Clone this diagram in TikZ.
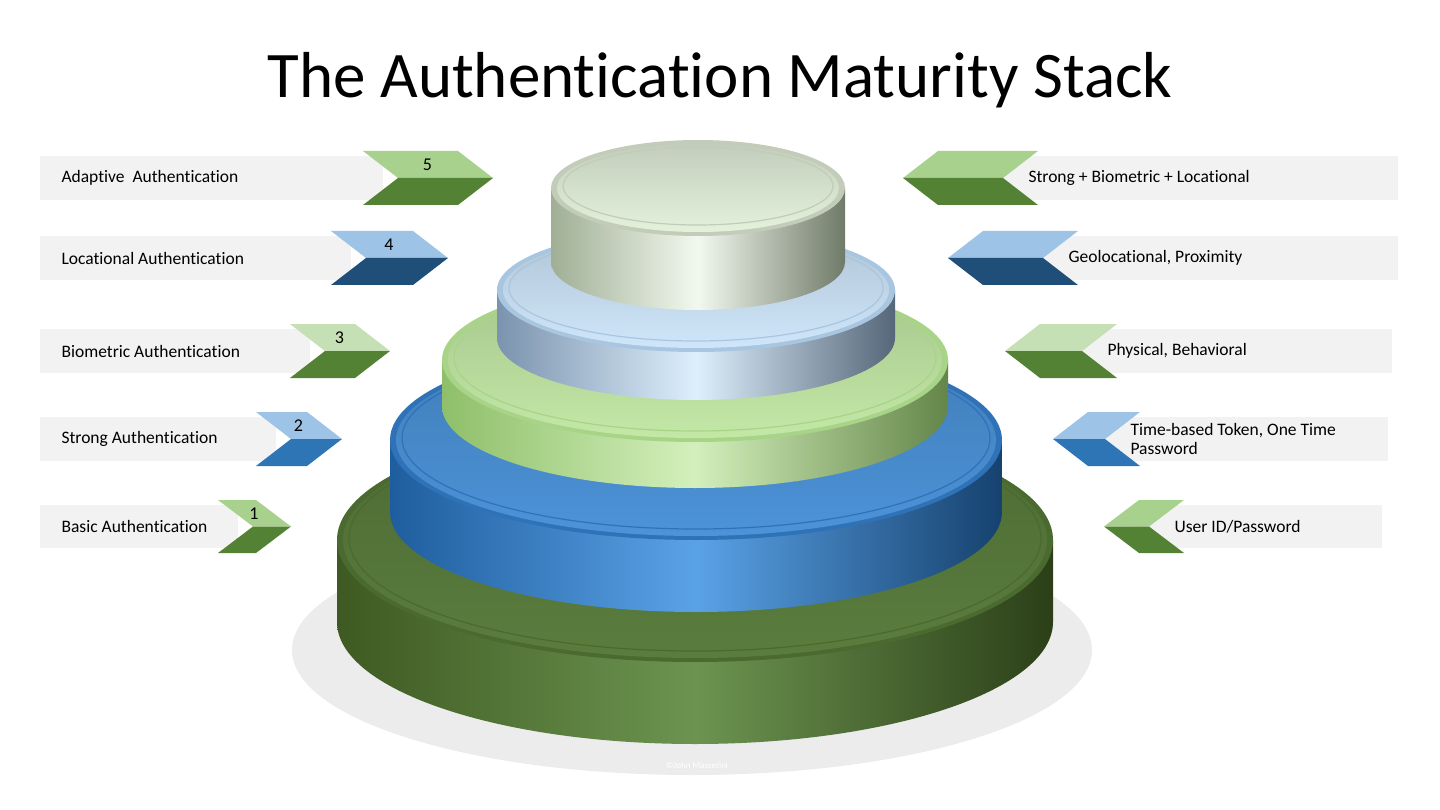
\documentclass[tikz,border=0pt]{standalone}
\usepackage{fontspec}
\setmainfont{Carlito}[Ligatures={NoCommon}]
\definecolor{glight}{HTML}{A9D18E}
\definecolor{gdark}{HTML}{548235}
\definecolor{g3light}{HTML}{C5E0B4}
\definecolor{blight}{HTML}{9DC3E6}
\definecolor{bdark}{HTML}{2E75B6}
\definecolor{b4dark}{HTML}{1F4E79}
\definecolor{barg}{HTML}{F2F2F2}
\begin{document}
\begin{tikzpicture}[x=1pt,y=-1pt,
  lbl/.style={font=\fontsize{17.5}{19}\selectfont,anchor=west,align=left,text=black},
  num/.style={font=\fontsize{18}{20}\selectfont,text=black}]
\useasboundingbox (0,0) rectangle (1440,810);
\fill[white] (0,0) rectangle (1440,810);
\node[font=\fontsize{65}{70}\selectfont] (title) at (720,80) {The Authentication Maturity Stack};
\fill[gray!15] (692,650) ellipse[x radius=400,y radius=125];
\newcommand\mylayer[9]{% cx cy rx ry h side-edge side-mid top rim-edge
  \definecolor{sedge}{HTML}{#6}\definecolor{smid}{HTML}{#7}
  \definecolor{stop}{HTML}{#8}\definecolor{srim}{HTML}{#9}
  \shade[left color=sedge,right color=sedge!70!black,middle color=smid]
   (#1-#3,#2) -- (#1-#3,#2+#5) arc[start angle=180,end angle=0,x radius=#3,y radius=#4] -- (#1+#3,#2) -- cycle;
  \fill[srim] (#1,#2) ellipse[x radius=#3,y radius=#4];
  \shade[top color=stop!85!black,bottom color=stop] (#1,#2) ellipse[x radius=#3-6,y radius=#4-4];
  \draw[srim,line width=1.2] (#1,#2-2) ellipse[x radius=#3-12,y radius=#4-9];
}
\mylayer{695}{540}{358}{122}{82}{3E5A22}{6C9450}{5A7D3E}{4A6A30}
\mylayer{696}{440}{306}{100}{72}{1F5E9E}{5AA2E6}{4C93D8}{2F72B8}
\mylayer{695}{360}{253}{82}{46}{8FBF6A}{D3F0BC}{C3E8A6}{A8D488}
\mylayer{696}{290}{199}{62}{48}{7B93AE}{DDEFFC}{CFE6FA}{A9C6E0}
\mylayer{698}{188}{147}{48}{74}{9FAF95}{F2F8EE}{E4F2DC}{C2CCB8}
\node[font=\fontsize{9}{10}\selectfont,text=white] (copy) at (697,765) {\textcopyright John Masserini};
\newcommand\lchev[8]{% x0 x1 y0 y1 light dark num label
  \fill[barg] (40,#3+5) rectangle (#1+20,#4-5);
  \fill[#5] (#1,#3) -- (#2,#3) -- (#2+35,{(#3+#4)/2}) -- (#1+35,{(#3+#4)/2}) -- cycle;
  \fill[#6] (#1+35,{(#3+#4)/2}) -- (#2+35,{(#3+#4)/2}) -- (#2,#4) -- (#1,#4) -- cycle;
  \node[num] at ({(#1+#2)/2+17},#3+14) {#7};
  \node[lbl] at (58,{(#3+#4)/2}) {#8};
}
\lchev{363}{458}{151}{205}{glight}{gdark}{5}{Adaptive\ \ Authentication}
\lchev{331}{413}{231}{285}{blight}{b4dark}{4}{Locational Authentication}
\lchev{290}{355}{324}{378}{g3light}{gdark}{3}{Biometric Authentication}
\lchev{256}{307}{412}{466}{blight}{bdark}{2}{Strong Authentication}
\lchev{218}{256}{500}{553}{glight}{gdark}{1}{Basic Authentication}
\newcommand\rchev[8]{% x0 x1 y0 y1 light dark barend label
  \fill[barg] (#2-15,#3+5) rectangle (#7,#4-5);
  \fill[#5] (#1+35,#3) -- (#2+35,#3) -- (#2,{(#3+#4)/2}) -- (#1,{(#3+#4)/2}) -- cycle;
  \fill[#6] (#1,{(#3+#4)/2}) -- (#2,{(#3+#4)/2}) -- (#2+35,#4) -- (#1+35,#4) -- cycle;
  \node[lbl] at (#2+22,{(#3+#4)/2}) {#8};
}
\rchev{903}{1003}{151}{205}{glight}{gdark}{1398}{Strong + Biometric + Locational}
\rchev{948}{1043}{231}{285}{blight}{b4dark}{1398}{Geolocational, Proximity}
\rchev{1005}{1082}{324}{378}{g3light}{gdark}{1392}{Physical, Behavioral}
\rchev{1053}{1105}{412}{466}{blight}{bdark}{1388}{Time-based Token, One Time\\Password}
\rchev{1104}{1149}{500}{553}{glight}{gdark}{1382}{User ID/Password}
\end{tikzpicture}
\end{document}
